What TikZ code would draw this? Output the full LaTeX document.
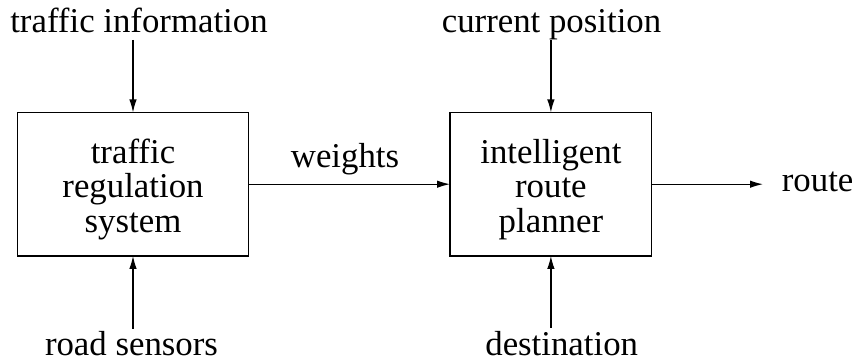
\documentclass[tikz,border=0pt]{standalone}
\usepackage{fontspec}
\setmainfont{Liberation Serif}
\usetikzlibrary{arrows.meta}
\begin{document}
\begin{tikzpicture}[x=1pt,y=1pt,
  every node/.style={font=\fontsize{34.8}{34.5}\selectfont},
  blk/.style={draw, line width=1.2pt, inner sep=0pt, outer sep=0pt},
  btxt/.style={align=center, inner sep=0pt},
  lbl/.style={anchor=base, inner sep=0pt},
  conn/.style={line width=1.2pt, -{Latex[length=13pt,width=7.5pt]}}]
\useasboundingbox (0,0) rectangle (854,363);
\node[blk, minimum width=230.6pt, minimum height=143.5pt] (trs) at (133,178.8) {};
\node[blk, minimum width=201.7pt, minimum height=143.5pt] (irp) at (550.9,178.8) {};
\node[btxt] (trsT) at ([yshift=-5pt]trs.center) {traffic\\regulation\\system};
\node[btxt] (irpT) at ([yshift=-5pt]irp.center) {intelligent\\route\\planner};
\node[lbl] (ti) at (139,330) {traffic information};
\node[lbl] (rs) at (131.5,7) {road sensors};
\node[lbl] (cp) at (551.5,330) {current position};
\node[lbl] (de) at (561.7,7) {destination};
\node[lbl] (w) at (345,195) {weights};
\node[lbl, anchor=base west] (r) at (781.7,171) {route};
\coordinate (tiA) at (133,323);
\coordinate (rsA) at (133,34);
\coordinate (cpA) at (550.9,323);
\coordinate (deA) at (550.9,35);
\coordinate (rA) at (763,178.8);
\draw[conn] (tiA) -- (trs.north);
\draw[conn] (rsA) -- (trs.south);
\draw[conn] (cpA) -- (irp.north);
\draw[conn] (deA) -- (irp.south);
\draw[conn] (trs.east) -- (irp.west);
\draw[conn] (irp.east) -- (rA);
\end{tikzpicture}
\end{document}
